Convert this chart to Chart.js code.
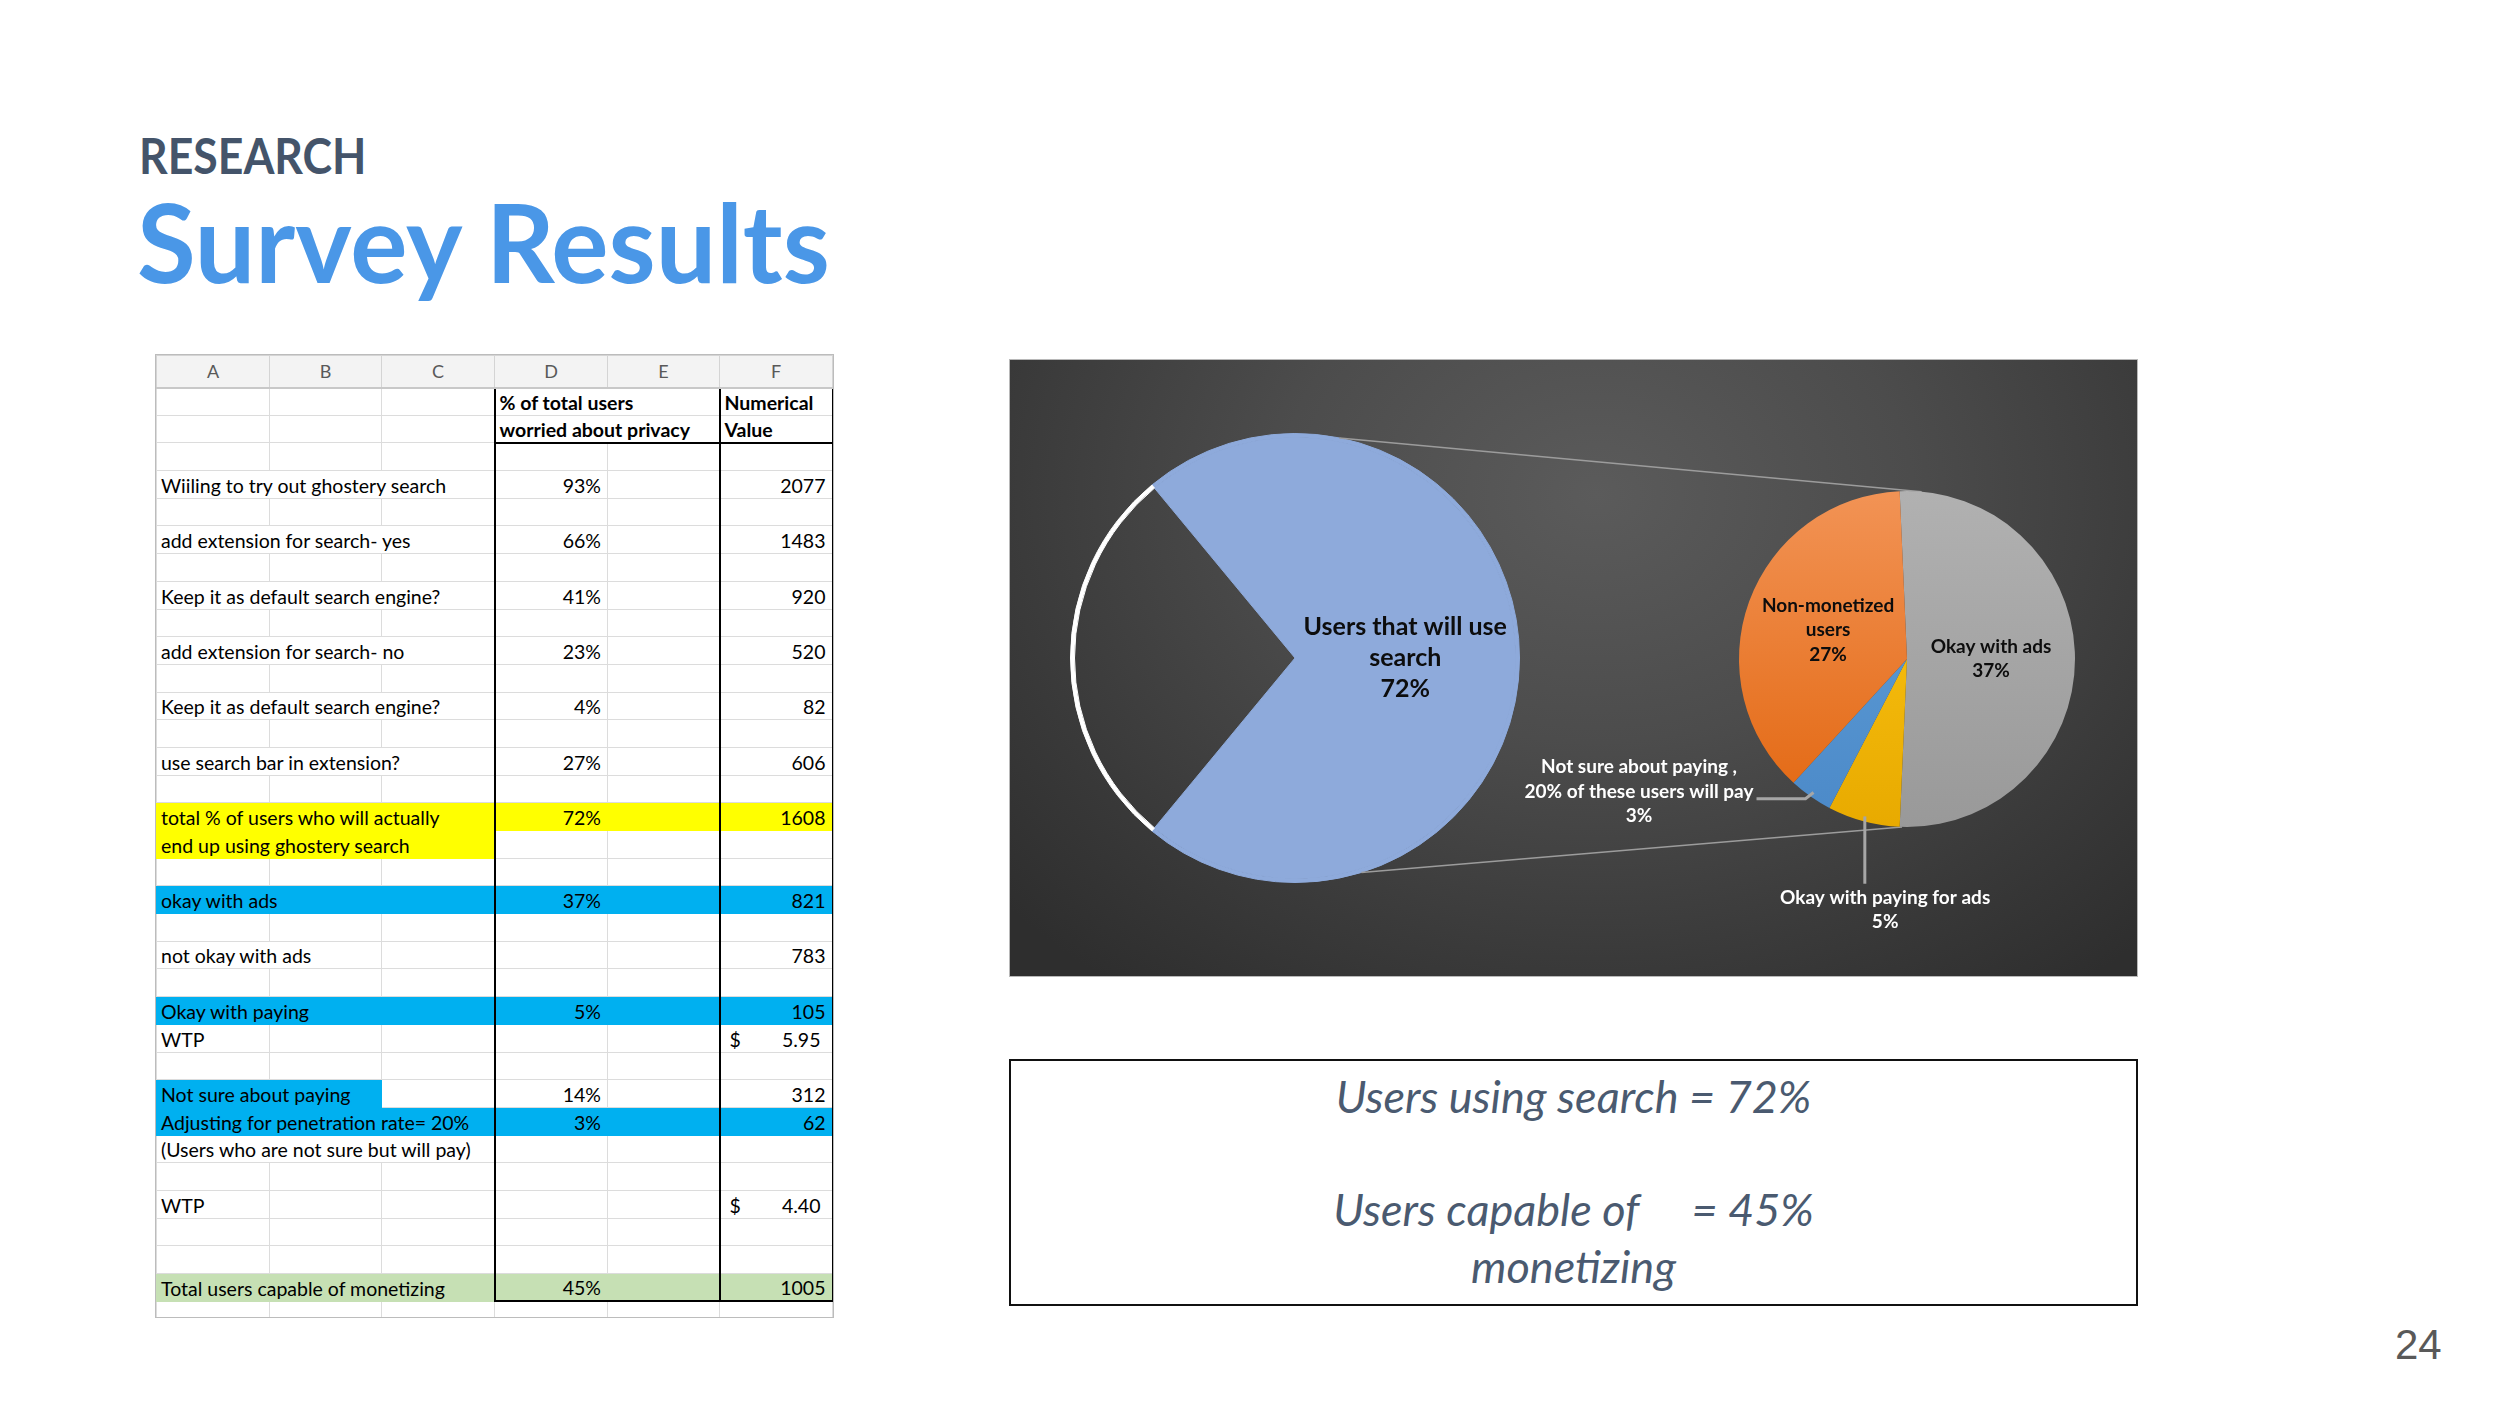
<!DOCTYPE html>
<html>
<head>
<meta charset="utf-8">
<title>Survey Results</title>
<script src="https://cdn.jsdelivr.net/npm/chart.js@4.4.1/dist/chart.umd.min.js"></script>
<style>
  html, body { margin: 0; padding: 0; background: #fff; }
  body { position: relative; width: 2500px; height: 1406px; overflow: hidden; font-family: Lato, "Open Sans", sans-serif; }
  .kicker { position: absolute; left: 139px; top: 131px; font: 700 49px Lato, sans-serif; line-height: 1; color: #44546a; transform: scaleX(0.91); transform-origin: 0 0; }
  .title { position: absolute; left: 137px; top: 185px; font: 700 110px Lato, sans-serif; line-height: 1; color: #4a97e7; transform: scaleX(0.975); transform-origin: 0 0; }

  #sheet { position: absolute; left: 155px; top: 354px; width: 679px; height: 964px; box-sizing: border-box; border: 1px solid #bcbcbc; overflow: hidden; background: #fff; }
  #sheet table { border-collapse: collapse; table-layout: fixed; width: 676px; }
  #sheet tr { height: 27.7px; }
  #sheet tr.head { height: 32px; }
  #sheet tr.tail { height: 18px; }
  #sheet th { background: #f3f3f3; color: #595959; font: 400 18px Lato, sans-serif; border: 1px solid #d4d4d4; border-bottom: 2px solid #c8c8c8; padding: 0; }
  #sheet td { border: 1px solid #dcdcdc; padding: 0 4px; font: 400 19.5px Lato, sans-serif; color: #000; white-space: nowrap; overflow: hidden; vertical-align: bottom; line-height: 25px; }
  #sheet td.bold { font-weight: 700; }
  #sheet td.num { text-align: right; padding-right: 6px; }
  #sheet td.money { padding: 0; }
  #sheet td.money div { display: flex; justify-content: space-between; padding: 0 11px 0 9px; }

  #pieBox { position: absolute; left: 1009px; top: 359px; width: 1129px; height: 618px;
    background: radial-gradient(ellipse 70% 100% at 52% 22%, #5b5b5b 0%, #4c4c4c 40%, #3a3a3a 75%, #2e2e2e 100%);
    box-shadow: inset 0 0 0 1px #b8b8b8; }
  #pieBox .layer { position: absolute; left: 0; top: 0; width: 1129px; height: 618px; }

  #note { position: absolute; left: 1009px; top: 1059px; width: 1129px; height: 247px; box-sizing: border-box;
    border: 2.5px solid #111; padding-top: 7px; text-align: center; font: italic 400 45px Lato, sans-serif;
    line-height: 56.5px; color: #4a5a70; }
  #note .gap { display: inline-block; width: 52px; }
  #pageNo { position: absolute; left: 2395px; top: 1324px; font: 400 42px "Liberation Sans", Arial, sans-serif; line-height: 1; color: #595959; }
</style>
</head>
<body>
<div class="kicker">RESEARCH</div>
<div class="title">Survey Results</div>
<div id="sheet"></div>
<div id="pieBox">
  <div class="layer"><canvas id="mainPie"></canvas></div>
  <div class="layer"><canvas id="zoomPie"></canvas></div>
</div>
<div id="note"></div>
<div id="pageNo">24</div>

<script>
// pie-of-pie values (share of all users, %)
const mainLabels = [['Users that will use', 'search'], ['Users that will not use', 'search']];
const mainValues = [72, 28];

const zoomLabels = [
  ['Okay with ads'],
  ['Okay with paying for ads'],
  ['Not sure about paying ,', '20% of these users will pay'],
  ['Non-monetized', 'users']
];
const zoomValues = [37, 5, 3, 27];

// spreadsheet
const colLetters = ['A', 'B', 'C', 'D', 'E', 'F'];
const headPct = ['% of total users', 'worried about privacy'];
const headNum = ['Numerical', 'Value'];
const rowLabels = [
  '', '', '',
  'Wiiling to try out ghostery search', '',
  'add extension for search- yes', '',
  'Keep it as default search engine?', '',
  'add extension for search- no', '',
  'Keep it as default search engine?', '',
  'use search bar in extension?', '',
  'total % of users who will actually', 'end up using ghostery search', '',
  'okay with ads', '',
  'not okay with ads', '',
  'Okay with paying', 'WTP', '',
  'Not sure about paying', 'Adjusting for penetration rate= 20%', '(Users who are not sure but will pay)', '',
  'WTP', '', '',
  'Total users capable of monetizing'
];
const rowPercents = [null, null, null, 93, null, 66, null, 41, null, 23, null, 4, null, 27, null, 72, null, null,
  37, null, null, null, 5, null, null, 14, 3, null, null, null, null, null, 45];
const rowCounts = [null, null, null, 2077, null, 1483, null, 920, null, 520, null, 82, null, 606, null, 1608, null, null,
  821, null, 783, null, 105, null, null, 312, 62, null, null, null, null, null, 1005];
const rowWtp = [null, null, null, null, null, null, null, null, null, null, null, null, null, null, null, null, null, null,
  null, null, null, null, null, 5.95, null, null, null, null, null, 4.40, null, null, null];

// styling
const rowFills = { 15: ['#ffff00', 6], 16: ['#ffff00', 3], 18: ['#00b0f0', 6], 22: ['#00b0f0', 6],
  25: ['#00b0f0', 2], 26: ['#00b0f0', 6], 32: ['#c6e0b4', 6] };
const colW = [113, 112, 113, 113, 112, 113];
const searchBlue = '#8eaadb';
const zoomTop = ['#b1b1b1', '#ffc917', '#63a2da', '#f29355'];
const zoomBottom = ['#999999', '#e8aa00', '#4b89c8', '#e2660f'];

// ---------- spreadsheet ----------
const measureCtx = document.createElement('canvas').getContext('2d');
function spanFor(text, font, start, maxSpan) {
  measureCtx.font = font;
  const need = measureCtx.measureText(text).width + 8;
  let span = 1, room = colW[start];
  while (room < need && span < maxSpan) { room += colW[start + span]; span++; }
  return span;
}

function buildSheet() {
  const table = document.createElement('table');
  const cg = document.createElement('colgroup');
  colW.forEach(w => { const col = document.createElement('col'); col.style.width = w + 'px'; cg.appendChild(col); });
  table.appendChild(cg);

  const head = document.createElement('tr');
  head.className = 'head';
  colLetters.forEach(l => { const th = document.createElement('th'); th.textContent = l; head.appendChild(th); });
  table.appendChild(head);

  const black = '2px solid #000';
  rowLabels.forEach((label, r) => {
    const tr = document.createElement('tr');
    const fill = rowFills[r];
    let c = 0;
    while (c < 6) {
      const td = document.createElement('td');
      let span = 1;
      if (c === 0 && label) {
        td.textContent = label;
        span = spanFor(label, '400 19.5px Lato', 0, 3);
      } else if (c === 3 && r < headPct.length) {
        td.textContent = headPct[r];
        td.className = 'bold';
        span = spanFor(headPct[r], '700 19.5px Lato', 3, 2);
      } else if (c === 3 && rowPercents[r] != null) {
        td.textContent = rowPercents[r] + '%';
        td.className = 'num';
      } else if (c === 5 && r < headNum.length) {
        td.textContent = headNum[r];
        td.className = 'bold';
      } else if (c === 5 && rowCounts[r] != null) {
        td.textContent = rowCounts[r];
        td.className = 'num';
      } else if (c === 5 && rowWtp[r] != null) {
        td.className = 'money';
        td.innerHTML = '<div><span>$</span><span>' + rowWtp[r].toFixed(2) + '</span></div>';
      }
      if (span > 1) td.colSpan = span;
      if (fill && c < fill[1]) { td.style.background = fill[0]; td.style.borderColor = fill[0]; }
      if (c === 3) td.style.borderLeft = black;
      if (c === 5) { td.style.borderLeft = black; td.style.borderRight = black; }
      if ((r === 1 || r === rowLabels.length - 1) && c >= 3) td.style.borderBottom = black;
      tr.appendChild(td);
      c += span;
    }
    table.appendChild(tr);
  });

  const tail = document.createElement('tr');
  tail.className = 'tail';
  for (let c = 0; c < 6; c++) tail.appendChild(document.createElement('td'));
  table.appendChild(tail);
  document.getElementById('sheet').appendChild(table);
}
buildSheet();

// ---------- note box ----------
document.getElementById('note').innerHTML =
  'Users using search = ' + mainValues[0] + '%<br><br>' +
  'Users capable of<span class="gap"></span>= ' + rowPercents[rowPercents.length - 1] + '%<br>monetizing';

// ---------- charts ----------
Chart.defaults.font.family = 'Lato, "Open Sans", sans-serif';

function drawLines(ctx, lines, x, y, lh, font, color) {
  ctx.save();
  ctx.font = font;
  ctx.fillStyle = color;
  ctx.textAlign = 'center';
  ctx.textBaseline = 'middle';
  const top = y - (lines.length - 1) * lh / 2;
  lines.forEach((t, i) => ctx.fillText(t, x, top + i * lh));
  ctx.restore();
}

const mainLabelPlugin = {
  id: 'mainLabel',
  afterDatasetsDraw(chart) {
    const p = chart.getDatasetMeta(1).data[0].tooltipPosition();
    drawLines(chart.ctx, [...mainLabels[0], mainValues[0] + '%'], p.x, p.y, 31, '700 25px Lato, sans-serif', '#0d0d0d');
  }
};

const mainTotal = mainValues.reduce((a, b) => a + b, 0);
const splitPie = new Chart(document.getElementById('mainPie'), {
  type: 'pie',
  data: {
    labels: mainLabels,
    datasets: [
      { // thin outer rim: white only around the split-off share
        data: mainValues,
        backgroundColor: [searchBlue, '#ffffff'],
        borderColor: [searchBlue, '#ffffff'],
        borderWidth: 1,
        weight: 1
      },
      {
        data: mainValues,
        backgroundColor: [searchBlue, 'rgba(0,0,0,0)'],
        borderColor: [searchBlue, 'rgba(0,0,0,0)'],
        borderWidth: 1,
        weight: 55
      }
    ]
  },
  options: {
    responsive: true,
    maintainAspectRatio: false,
    animation: false,
    events: [],
    offset: 0,
    hoverOffset: 0,
    rotation: 90 - mainValues[0] / mainTotal * 180,
    layout: { padding: { left: 61, right: 618, top: 74, bottom: 94 } },
    plugins: { legend: { display: false }, tooltip: { enabled: false } }
  },
  plugins: [mainLabelPlugin]
});

function sliceFill(c) {
  const i = c.dataIndex;
  const area = c.chart.chartArea;
  if (!area) return zoomTop[i];
  const g = c.chart.ctx.createLinearGradient(0, area.top, 0, area.bottom);
  g.addColorStop(0, zoomTop[i]);
  g.addColorStop(1, zoomBottom[i]);
  return g;
}

const deg = Math.PI / 180;
const onCircle = (x, y, rad, a) => ({ x: x + Math.cos(a * deg) * rad, y: y + Math.sin(a * deg) * rad });
const midEdge = (arc, k) => {
  const a = (arc.startAngle + arc.endAngle) / 2;
  return { x: arc.x + Math.cos(a) * arc.outerRadius * k, y: arc.y + Math.sin(a) * arc.outerRadius * k };
};

const zoomLabelPlugin = {
  id: 'zoomLabels',
  beforeDatasetsDraw(chart) {
    // connector lines from the big pie to the secondary pie
    const big = splitPie.getDatasetMeta(0).data[0];
    const small = chart.getDatasetMeta(0).data[0];
    const ctx = chart.ctx;
    const a1 = onCircle(big.x, big.y, big.outerRadius, -78.6), b1 = onCircle(small.x, small.y, small.outerRadius, -85);
    const a2 = onCircle(big.x, big.y, big.outerRadius, 72.8), b2 = onCircle(small.x, small.y, small.outerRadius, 91.7);
    ctx.save();
    ctx.strokeStyle = '#9c9c9c';
    ctx.lineWidth = 1.5;
    ctx.beginPath();
    ctx.moveTo(a1.x, a1.y); ctx.lineTo(b1.x, b1.y);
    ctx.moveTo(a2.x, a2.y); ctx.lineTo(b2.x, b2.y);
    ctx.stroke();
    ctx.restore();
  },
  afterDatasetsDraw(chart) {
    const ctx = chart.ctx;
    const arcs = chart.getDatasetMeta(0).data;
    const cx = arcs[0].x, cy = arcs[0].y, r = arcs[0].outerRadius;
    const font = '700 19px Lato, sans-serif';
    const lh = 24.5;
    const text = i => [...zoomLabels[i], zoomValues[i] + '%'];

    [0, 3].forEach(i => {
      const p = arcs[i].tooltipPosition();
      drawLines(ctx, text(i), p.x, p.y, lh, font, '#0d0d0d');
    });

    const unsure = { x: cx - 1.595 * r, y: cy + 0.79 * r };
    const paying = { x: cx - 0.13 * r, y: cy + 1.494 * r };
    ctx.save();
    ctx.font = font;
    const w = ctx.measureText(zoomLabels[2][1]).width;
    ctx.strokeStyle = '#a6a6a6';
    ctx.lineWidth = 3;
    const e2 = midEdge(arcs[2], 0.97);
    ctx.beginPath();
    ctx.moveTo(unsure.x + w / 2 + 3, unsure.y + 7);
    ctx.lineTo(e2.x - 8, unsure.y + 7);
    ctx.lineTo(e2.x, e2.y);
    ctx.stroke();
    const e1 = midEdge(arcs[1], 0.97);
    ctx.beginPath();
    ctx.moveTo(e1.x, e1.y);
    ctx.lineTo(e1.x, paying.y - lh / 2 - 14);
    ctx.stroke();
    ctx.restore();
    drawLines(ctx, text(2), unsure.x, unsure.y, lh, font, '#ffffff');
    drawLines(ctx, text(1), paying.x, paying.y, lh, font, '#ffffff');
  }
};

const zoomPie = new Chart(document.getElementById('zoomPie'), {
  type: 'pie',
  data: {
    labels: zoomLabels,
    datasets: [{ data: zoomValues, backgroundColor: sliceFill, borderWidth: 0 }]
  },
  options: {
    responsive: true,
    maintainAspectRatio: false,
    animation: false,
    events: [],
    offset: 0,
    hoverOffset: 0,
    rotation: -2.5,
    layout: { padding: { left: 730, right: 63, top: 132, bottom: 150 } },
    plugins: { legend: { display: false }, tooltip: { enabled: false } }
  },
  plugins: [zoomLabelPlugin]
});
</script>
</body>
</html>
